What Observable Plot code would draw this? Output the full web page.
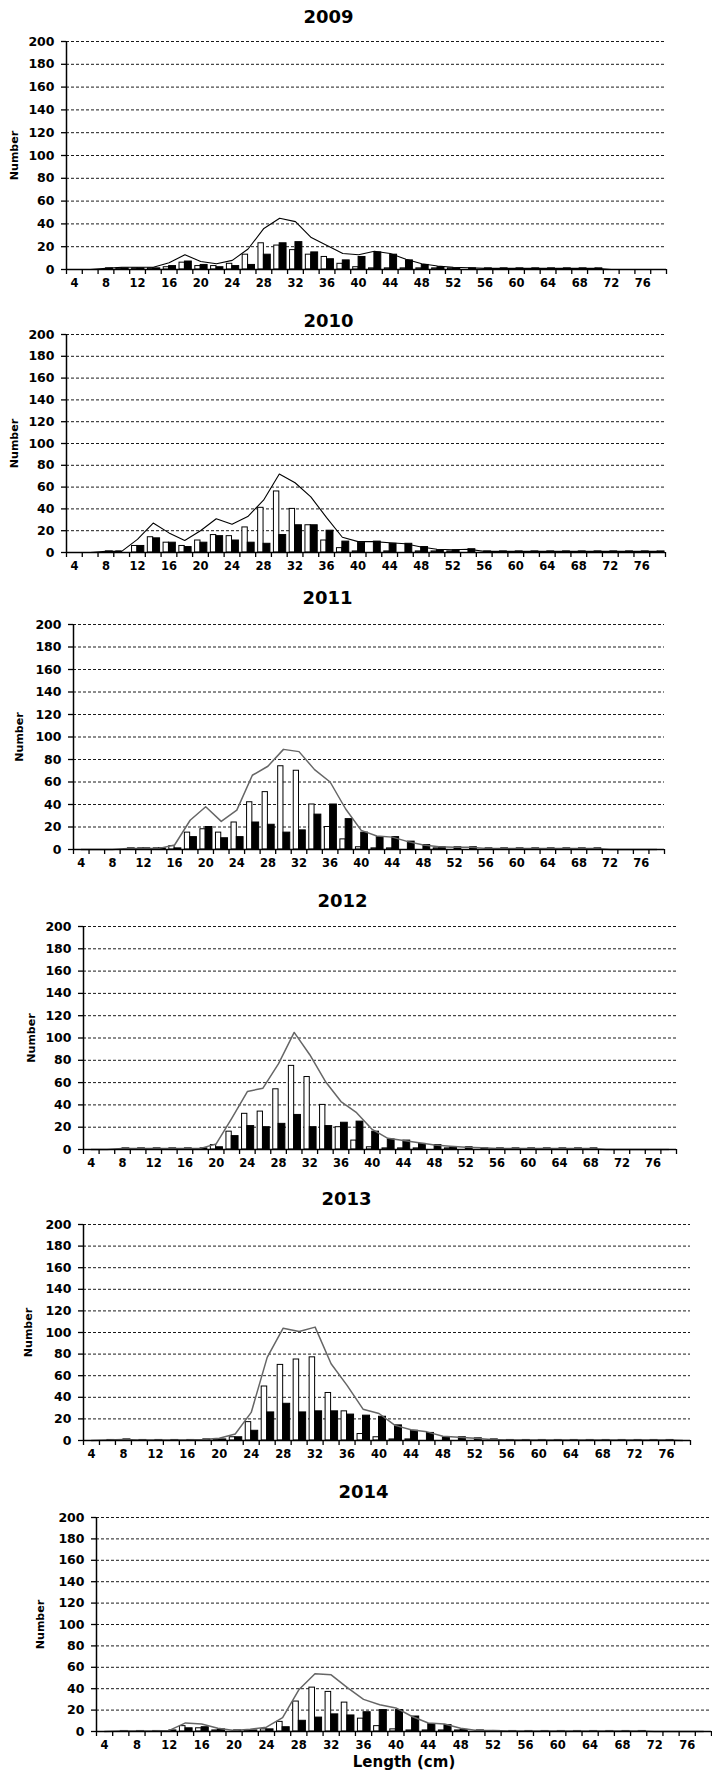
<!DOCTYPE html>
<html>
<head>
<meta charset="utf-8">
<script src="https://cdn.jsdelivr.net/npm/d3@7"></script>
<script src="https://cdn.jsdelivr.net/npm/@observablehq/plot@0.6"></script>
<style>
  html, body { margin: 0; padding: 0; background: #fff; overflow: hidden; }
  #chart svg { display: block; }
</style>
</head>
<body>
<div id="chart"></div>
<script>
// Length classes (cm) — one category every 2 cm
const lengths = [4,6,8,10,12,14,16,18,20,22,24,26,28,30,32,34,36,38,40,42,44,46,48,50,52,54,56,58,60,62,64,66,68,70,72,74,76,78];
const xTickLabels = [4,8,12,16,20,24,28,32,36,40,44,48,52,56,60,64,68,72,76];
const yTickValues = [0,20,40,60,80,100,120,140,160,180,200];

const white2009 = [0,0,0,1,1,1,2,6,3,3, 5,13,23,21,17,13,11,5,2,1, 1,1,1,1,1,0,0,0,0,0, 0,0,0,0,0,0,0,0];
const black2009 = [0,0,1,1,1,1,3,7,4,2, 3,4,13,23,24,15,9,8,11,15, 13,8,4,2,1,1,1,1,1,1, 1,1,1,1,0,0,0,0];
const total2009 = [0,0,1,2,2,2,6,13,7,5, 8,18,36,45,42,28,21,14,13,16, 14,9,5,3,2,1.5,1,1,1,1, 1,1,1,1,0,0,0,0];

const white2010 = [0,0,0,1,6,14,9,6,11,16, 15,23,41,56,40,25,11,4,1,0, 1,0,1,1,1,0,0,0,0,0, 0,0,0,0,0,0,0,0];
const black2010 = [0,0,1,0,6,13,9,5,9,15, 11,9,8,16,25,25,20,10,9,10, 8,8,5,2,2,3,1,1,1,1, 1,1,1,1,1,1,1,1];
const total2010 = [0,0,1,1,12,27,18,11,20,31, 26,33,48,72,64,51,32,14,10,10, 9,8,5,3,2.5,3,1,1,1,1, 1,1,1,1,1,1,1,1];

const white2011 = [0,0,0,0,1,1,3,15,18,15, 24,42,51,74,70,40,20,9,2,1, 1,0,0,1,0,0,0,0,0,0, 0,0,0,0,0,0,0,0];
const black2011 = [0,0,0,1,1,1,1,11,20,10, 11,24,22,15,17,31,40,27,15,11, 11,7,4,2,2,2,1,1,1,1, 1,1,1,1,0,0,0,0];
const total2011 = [0,0,0,1,1,1,4,26,38,25, 35,66,74,89,87,71,60,36,17,12, 11,7,4,2.5,2,2,1,1,1,1, 1,1,1,1,0,0,0,0];

const white2012 = [0,0,0,0,0,0,0,0,4,16, 32,34,54,75,65,40,20,8,2,1, 1,1,0,1,0,0,0,0,0,0, 0,0,0,0,0,0,0,0];
const black2012 = [0,0,1,1,1,1,1,1,2,12, 21,20,23,31,20,21,24,25,16,9, 8,5,4,2,2,1,1,1,1,1, 1,1,1,0,0,0,0,0];
const total2012 = [0,0,1,1,1,1,1,1,5,28, 52,55,77,105,85,61,43,33,18,10, 8,6,4,3,2,1.5,1,1,1,1, 1,1,1,0,0,0,0,0];

const white2013 = [0,0,0,0,0,0,0,0,1,3, 17,50,70,75,77,44,27,6,3,1, 1,0,0,0,0,0,0,0,0,0, 0,0,0,0,0,0,0,0];
const black2013 = [0,0.5,1,0.5,0.5,0.5,0.5,1,1,3, 9,26,34,26,27,27,24,23,22,14, 9,7,3,3,2,1,0.5,0.5,0.5,0.5, 0.5,0.5,0.5,0.5,0.5,0.5,0.5,0];
const total2013 = [0,0.5,1,0.5,0.5,0.5,0.5,1,2,6, 26,77,104,101,105,71,51,29,25,14, 10,8,4,3,2,1,0.5,0.5,0.5,0.5, 0.5,0.5,0.5,0.5,0.5,0.5,0.5,0];

const white2014 = [0,0,0,0,0,5,3,1,0,1, 2,9,28,41,37,27,12,5,2,1, 1,1,1,0,0,0,0,0,0,0, 0,0,0,0,0,0,0,0];
const black2014 = [0,0.5,0.5,0.5,1,3,4,2,1,1, 2,4,10,13,16,15,18,20,20,14, 7,6,1.5,1,0.5,0.5,0.5,0.5,0.5,0.5, 0.5,0.5,0.5,0.5,0,0,0,0];
const total2014 = [0,0.5,0.5,0.5,1,8,7,3,1,2, 4,13,39,54,53,41,30,25,22,14, 8,7,3,1,1,0.5,0.5,0.5,0.5,0.5, 0.5,0.5,0.5,0.5,0,0,0,0];

// Layout / style per panel
const panels = [
  {year: "2009", white: white2009, black: black2009, total: total2009, line: "#000", lw: 1.1, height: 300, mt: 41, mb: 31, ml: 66, mr: 46, tdx: 262, tdy: -24, ndx: -52},
  {year: "2010", white: white2010, black: black2010, total: total2010, line: "#000", lw: 1.1, height: 280, mt: 34, mb: 28, ml: 66, mr: 47, tdx: 262, tdy: -13, ndx: -52},
  {year: "2011", white: white2011, black: black2011, total: total2011, line: "#666", lw: 1.5, height: 300, mt: 44, mb: 31, ml: 73, mr: 48, tdx: 254, tdy: -26, ndx: -54},
  {year: "2012", white: white2012, black: black2012, total: total2012, line: "#666", lw: 1.5, height: 295, mt: 46, mb: 26, ml: 83, mr: 36, tdx: 259, tdy: -25, ndx: -52},
  {year: "2013", white: white2013, black: black2013, total: total2013, line: "#666", lw: 1.5, height: 295, mt: 49, mb: 30, ml: 83, mr: 22, tdx: 263, tdy: -25, ndx: -55},
  {year: "2014", white: white2014, black: black2014, total: total2014, line: "#666", lw: 1.5, height: 301, mt: 47, mb: 40, ml: 96, mr: 1, tdx: 267, tdy: -25, ndx: -56, xLabel: "Length (cm)"}
];

const edges = lengths.map(l => l - 1).concat([lengths[lengths.length - 1] + 1]);
const xDomain = [edges[0], edges[edges.length - 1]];

const container = document.getElementById("chart");
for (const p of panels) {
  const rows = lengths.map((len, i) => ({len, w: p.white[i], b: p.black[i], t: p.total[i]}));
  const marks = [
    Plot.gridY(yTickValues.filter(v => v > 0), {stroke: "#000", strokeOpacity: 1, strokeWidth: 0.9, strokeDasharray: "3,2"}),
    Plot.rect(rows, {x1: d => d.len - 1, x2: "len", y1: 0, y2: "w", fill: "#fff", stroke: "#000", strokeWidth: 1, insetLeft: 2.5, insetRight: 0}),
    Plot.rect(rows, {x1: "len", x2: d => d.len + 1, y1: 0, y2: "b", fill: "#000", stroke: "#000", strokeWidth: 1, insetLeft: 0, insetRight: 1}),
    Plot.line(rows, {x: "len", y: "t", stroke: p.line, strokeWidth: p.lw}),
    Plot.ruleY([0], {stroke: "#000", strokeWidth: 1.5}),
    Plot.ruleX([xDomain[0]], {stroke: "#000", strokeWidth: 1.5}),
    Plot.axisY(yTickValues, {tickSize: 5, tickPadding: 7, fontSize: 12.5, fontWeight: "bold", label: null, strokeWidth: 1.3}),
    Plot.axisX(edges, {tickSize: 5, tickFormat: () => "", label: null, strokeWidth: 1.3}),
    Plot.axisX(xTickLabels, {tickSize: 0, tickPadding: 9, fontSize: 11.5, fontWeight: "bold", label: null}),
    Plot.text([p.year], {text: d => d, frameAnchor: "top-left", dx: p.tdx, dy: p.tdy, fontSize: 18, fontWeight: "bold", textAnchor: "middle", lineAnchor: "middle"}),
    Plot.text(["Number"], {text: d => d, frameAnchor: "left", dx: p.ndx, rotate: -90, fontSize: 11, fontWeight: "bold", textAnchor: "middle", lineAnchor: "middle"})
  ];
  if (p.xLabel) {
    marks.push(Plot.text([p.xLabel], {text: d => d, frameAnchor: "bottom", dy: 31, fontSize: 15, fontWeight: "bold", textAnchor: "middle", lineAnchor: "middle"}));
  }
  const svg = Plot.plot({
    width: 712,
    height: p.height,
    marginTop: p.mt,
    marginBottom: p.mb,
    marginLeft: p.ml,
    marginRight: p.mr,
    x: {type: "linear", domain: xDomain},
    y: {type: "linear", domain: [0, 200]},
    style: {fontFamily: "DejaVu Sans", fontWeight: "bold", color: "#000", background: "#fff", overflow: "visible"},
    marks
  });
  container.appendChild(svg);
}
</script>
</body>
</html>
